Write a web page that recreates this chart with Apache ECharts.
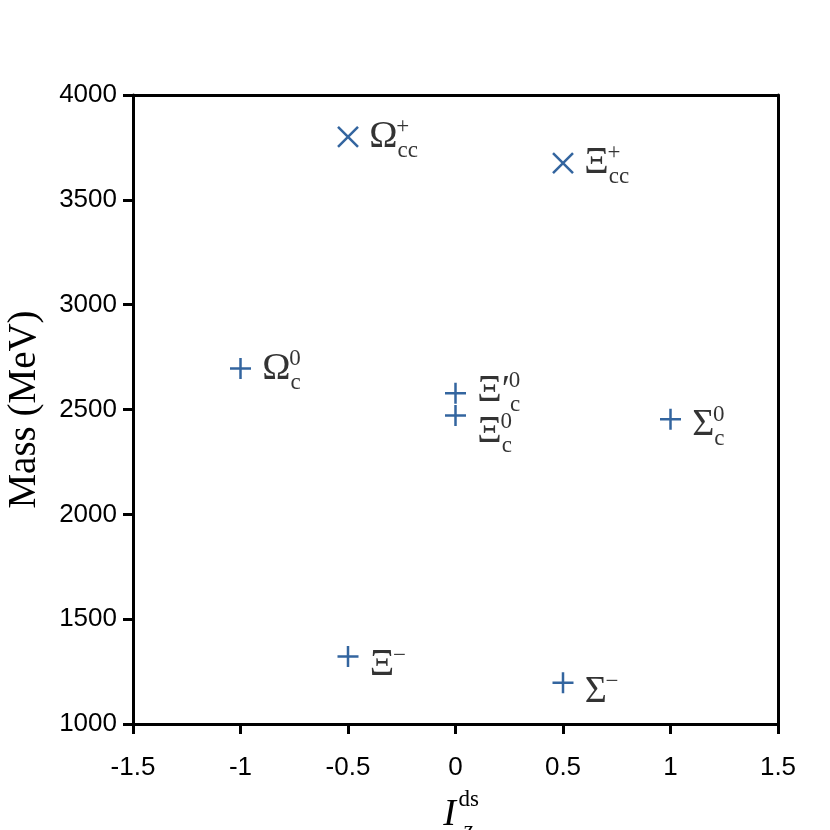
<!DOCTYPE html>
<html>
<head>
<meta charset="utf-8">
<script src="https://cdn.jsdelivr.net/npm/echarts@6/dist/echarts.min.js"></script>
<style>
html, body { margin: 0; padding: 0; background: #fff; }
#mass-chart { width: 830px; height: 830px; }
</style>
</head>
<body>
<div id="mass-chart"></div>
<script>
// baryon states: isospin I_z^ds vs mass
const isospin = [-0.5, 0.5, -1, 0, 0, 1, -0.5, 0.5];
const mass = [3800, 3675, 2695, 2578, 2471, 2453, 1322, 1197];
const baseName = ['Ω', 'Ξ', 'Ω', 'Ξ′', 'Ξ', 'Σ', 'Ξ', 'Σ'];
const subText = ['cc', 'cc', 'c', 'c', 'c', 'c', '', ''];
const supText = ['+', '+', '0', '0', '0', '0', '−', '−'];
const markerKind = ['cross', 'cross', 'plus', 'plus', 'plus', 'plus', 'plus', 'plus'];
const xTicks = { min: -1.5, max: 1.5, step: 0.5 };
const yTicks = { min: 1000, max: 4000, step: 500 };

// label nudges (pixels), kept apart from the values
const labelShift = [[0, 0], [0, 0], [0, 0], [0, -2], [0, 16], [0, 6], [0, 9], [0, 9]];

const blue = '#003f87';
const serif = '"Liberation Serif", "DejaVu Serif", serif';
const sans = '"Liberation Sans", Arial, sans-serif';

const plusPath = 'path://M0,10L20,10M10,0L10,20';
const crossPath = 'path://M0,0L20,20M20,0L0,20';

let containerDom = document.getElementById('mass-chart');
let myChart = echarts.init(containerDom);

function pointData() {
    let data = [];
    for (let i = 0; i < isospin.length; i++) {
        data.push({
            value: [isospin[i], mass[i]],
            symbol: markerKind[i] === 'cross' ? crossPath : plusPath,
            symbolSize: markerKind[i] === 'cross' ? 20 : 21,
            label: { offset: labelShift[i] }
        });
    }
    return data;
}

const richBase = {
    b: { fontFamily: serif, fontSize: 38, lineHeight: 46, color: '#000' },
    g: { fontFamily: serif, fontSize: 38, lineHeight: 46, color: 'rgba(0,0,0,0)' },
    sub: { fontFamily: serif, fontSize: 23, lineHeight: 18, padding: [28, 0, 0, 0], color: '#000' },
    sup: { fontFamily: serif, fontSize: 23, lineHeight: 20, padding: [3, 0, 23, 0], color: '#000' }
};

// x axis title I_z^ds: two stacked texts share the same width
const titleRich = {
    i: { fontFamily: serif, fontStyle: 'italic', fontSize: 38, lineHeight: 50, padding: [0, 0, 0, 14], color: '#000' },
    gi: { fontFamily: serif, fontStyle: 'italic', fontSize: 38, lineHeight: 50, padding: [0, 0, 0, 14], color: 'rgba(0,0,0,0)' },
    sub: { fontFamily: serif, fontSize: 23, lineHeight: 18, width: 26, padding: [32, 0, 0, 0], color: '#000' },
    sup: { fontFamily: serif, fontSize: 23, lineHeight: 20, width: 26, padding: [0, 0, 30, 0], color: '#000' }
};

let option = {
    animation: false,
    backgroundColor: '#fff',
    grid: { left: 133, right: 52, top: 95, bottom: 106, outerBoundsMode: 'none', containLabel: false },
    xAxis: [{
        type: 'value',
        min: xTicks.min,
        max: xTicks.max,
        interval: xTicks.step,
        position: 'bottom',
        axisLine: { onZero: false, lineStyle: { color: '#000', width: 3 } },
        axisTick: { show: true, inside: false, length: 10, lineStyle: { color: '#000', width: 3 } },
        axisLabel: { color: '#000', fontFamily: sans, fontSize: 26, margin: 31 },
        splitLine: { show: false },
        name: '{i|I}{sub|z}',
        nameLocation: 'middle',
        nameGap: 66,
        nameTextStyle: { rich: titleRich }
    }, {
        type: 'value',
        min: xTicks.min,
        max: xTicks.max,
        interval: xTicks.step,
        position: 'top',
        axisLine: { onZero: false, lineStyle: { color: '#000', width: 3 } },
        axisTick: { show: false },
        axisLabel: { show: false },
        splitLine: { show: false }
    }, {
        type: 'value',
        min: xTicks.min,
        max: xTicks.max,
        position: 'bottom',
        axisLine: { show: false, onZero: false },
        axisTick: { show: false },
        axisLabel: { show: false },
        splitLine: { show: false },
        name: '{gi|I}{sup|ds}',
        nameLocation: 'middle',
        nameGap: 66,
        nameTextStyle: { rich: titleRich }
    }],
    yAxis: [{
        type: 'value',
        min: yTicks.min,
        max: yTicks.max,
        interval: yTicks.step,
        position: 'left',
        axisLine: { show: true, onZero: false, lineStyle: { color: '#000', width: 3 } },
        axisTick: { show: true, inside: false, length: 10, lineStyle: { color: '#000', width: 3 } },
        axisLabel: {
            color: '#000', fontFamily: sans, fontSize: 26, margin: 16,
            formatter: function (v) { return String(v); }
        },
        splitLine: { show: false },
        name: 'Mass (MeV)',
        nameLocation: 'middle',
        nameGap: 89,
        nameTextStyle: { color: '#000', fontFamily: serif, fontSize: 39 }
    }, {
        type: 'value',
        min: yTicks.min,
        max: yTicks.max,
        interval: yTicks.step,
        position: 'right',
        axisLine: { show: true, onZero: false, lineStyle: { color: '#000', width: 3 } },
        axisTick: { show: false },
        axisLabel: { show: false },
        splitLine: { show: false }
    }],
    series: [{
        name: 'states',
        type: 'scatter',
        data: pointData(),
        itemStyle: { color: 'rgba(0,0,0,0)', borderColor: blue, borderWidth: 2.5 },
        label: {
            show: true,
            position: 'right',
            distance: 10,
            formatter: function (p) {
                let i = p.dataIndex;
                return '{b|' + baseName[i] + '}' + (subText[i] ? '{sub|' + subText[i] + '}' : '');
            },
            rich: richBase
        },
        z: 3
    }, {
        name: 'superscripts',
        type: 'scatter',
        data: pointData(),
        symbolSize: 0,
        itemStyle: { color: 'rgba(0,0,0,0)', borderWidth: 0 },
        label: {
            show: true,
            position: 'right',
            distance: 10,
            formatter: function (p) {
                let i = p.dataIndex;
                return '{g|' + baseName[i] + '}{sup|' + supText[i] + '}';
            },
            rich: richBase
        },
        z: 4
    }]
};

myChart.setOption(option);
</script>
</body>
</html>
